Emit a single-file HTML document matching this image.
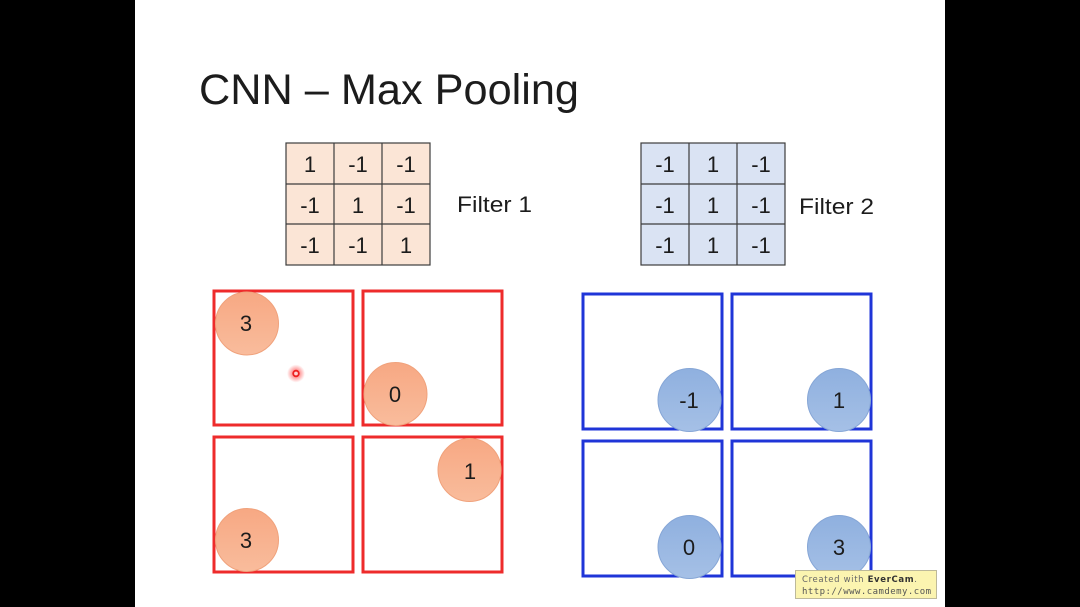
<!DOCTYPE html>
<html>
<head>
<meta charset="utf-8">
<style>
html,body{margin:0;padding:0;background:#000;width:1080px;height:607px;overflow:hidden}
svg{display:block}
text{font-family:"Liberation Sans",sans-serif;fill:#1c1c1c}
.n{font-size:22px;text-anchor:middle}
.l{font-size:22px}
#art{filter:blur(.35px)}
</style>
</head>
<body>
<svg width="1080" height="607" viewBox="0 0 1080 607" xmlns="http://www.w3.org/2000/svg">
<defs>
<linearGradient id="o" x1="0" y1="0" x2="0" y2="1"><stop offset="0" stop-color="#f7a883"/><stop offset="1" stop-color="#f9bc9c"/></linearGradient>
<linearGradient id="b" x1="0" y1="0" x2="0" y2="1"><stop offset="0" stop-color="#8fb0df"/><stop offset="1" stop-color="#a5c0e6"/></linearGradient>
<radialGradient id="g"><stop offset="0.3" stop-color="#ff5050" stop-opacity=".7"/><stop offset="1" stop-color="#ff5050" stop-opacity="0"/></radialGradient>
</defs>
<rect x="135" y="0" width="810" height="607" fill="#fff"/>
<g id="art">
<text x="199" y="104" style="font-size:43px" textLength="380" lengthAdjust="spacingAndGlyphs">CNN – Max Pooling</text>

<g stroke="#3c3c3c" stroke-width="1.2">
<rect x="286" y="143" width="144" height="122" fill="#fbe5d6"/>
<path d="M334 143V265M382 143V265M286 184H430M286 224H430" fill="none"/>
<rect x="641" y="143" width="144" height="122" fill="#dae3f3"/>
<path d="M689 143V265M737 143V265M641 184H785M641 224H785" fill="none"/>
</g>
<text class="n" x="310" y="172">1</text><text class="n" x="358" y="172">-1</text><text class="n" x="406" y="172">-1</text>
<text class="n" x="310" y="213">-1</text><text class="n" x="358" y="213">1</text><text class="n" x="406" y="213">-1</text>
<text class="n" x="310" y="253">-1</text><text class="n" x="358" y="253">-1</text><text class="n" x="406" y="253">1</text>
<text class="n" x="665" y="172">-1</text><text class="n" x="713" y="172">1</text><text class="n" x="761" y="172">-1</text>
<text class="n" x="665" y="213">-1</text><text class="n" x="713" y="213">1</text><text class="n" x="761" y="213">-1</text>
<text class="n" x="665" y="253">-1</text><text class="n" x="713" y="253">1</text><text class="n" x="761" y="253">-1</text>
<text class="l" x="457" y="212" textLength="75" lengthAdjust="spacingAndGlyphs">Filter 1</text>
<text class="l" x="799" y="214" textLength="75" lengthAdjust="spacingAndGlyphs">Filter 2</text>

<g fill="none" stroke="#ee2b2b" stroke-width="3">
<rect x="214" y="291" width="139" height="134"/>
<rect x="363" y="291" width="139" height="134"/>
<rect x="214" y="437" width="139" height="135"/>
<rect x="363" y="437" width="139" height="135"/>
</g>
<g fill="none" stroke="#1f35d8" stroke-width="3">
<rect x="583" y="294" width="139" height="135"/>
<rect x="732" y="294" width="139" height="135"/>
<rect x="583" y="441" width="139" height="135"/>
<rect x="732" y="441" width="139" height="135"/>
</g>

<g stroke="#f0a27c" stroke-width="1" fill="url(#o)">
<circle cx="247" cy="323.500" r="31.500"/>
<circle cx="395.500" cy="394" r="31.500"/>
<circle cx="469.500" cy="470" r="31.500"/>
<circle cx="247" cy="540" r="31.500"/>
</g>
<g stroke="#86a6d6" stroke-width="1" fill="url(#b)">
<circle cx="689.500" cy="400" r="31.500"/>
<circle cx="839" cy="400" r="31.500"/>
<circle cx="689.500" cy="547" r="31.500"/>
<circle cx="839" cy="547" r="31.500"/>
</g>
<text class="n" x="246" y="331">3</text>
<text class="n" x="395" y="402">0</text>
<text class="n" x="470" y="479">1</text>
<text class="n" x="246" y="548">3</text>
<text class="n" x="689" y="408">-1</text>
<text class="n" x="839" y="408">1</text>
<text class="n" x="689" y="555">0</text>
<text class="n" x="839" y="555">3</text>

<circle cx="296" cy="373.500" r="9" fill="url(#g)"/>
<circle cx="296" cy="373.500" r="2.800" fill="#ffd0d0" stroke="#ee2020" stroke-width="1.800"/>

<rect x="795.500" y="570.500" width="141" height="28" fill="#fbf4b0" stroke="#bdb99a" stroke-width="1"/>
<text x="802" y="582" style="font-family:'DejaVu Sans',sans-serif;font-size:8.500px;fill:#666" textLength="115" lengthAdjust="spacing">Created with <tspan style="font-weight:bold;fill:#333">EverCam</tspan>.</text>
<text x="802" y="594" style="font-family:'DejaVu Sans Mono','Liberation Mono',monospace;font-size:9px;fill:#555" textLength="129" lengthAdjust="spacing">http://www.camdemy.com</text>
</g>
</svg>
</body>
</html>
